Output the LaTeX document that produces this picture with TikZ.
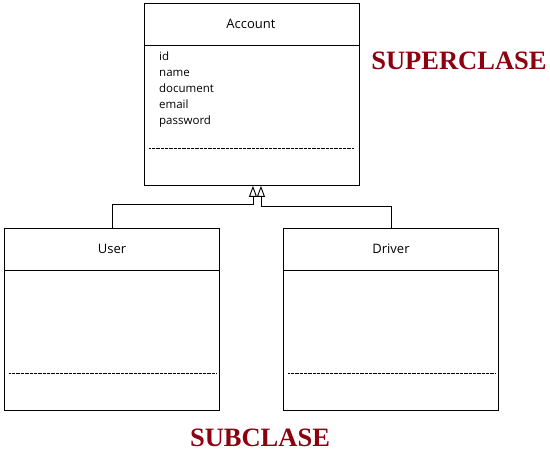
\documentclass[tikz,border=0pt]{standalone}
\usepackage{fontspec}
\setmainfont{Open Sans}
\newfontfamily\titlefont{Liberation Serif}
\usetikzlibrary{arrows.meta, positioning}
\definecolor{titlered}{RGB}{140,0,16}

\begin{document}
\begin{tikzpicture}
	[%
	x=1pt, y=-1pt,
	classbox/.style ={rectangle,	draw=black,	line width=0.9pt,	inner sep=0pt,	anchor=north west,	minimum width=215pt,	minimum height=182pt},%
	classname/.style={font=\fontsize{13}{15}\selectfont},%
	attr/.style     ={anchor=base west,	inner sep=0pt,	font=\fontsize{11.5}{14}\selectfont},%
	sep/.style      ={line width=0.7pt,	dash pattern=on 0.7pt off 0.6pt},%
	title/.style    ={text=titlered,	font=\titlefont\bfseries\fontsize{26.5}{29}\selectfont},%
	inherit/.style  ={line width=0.9pt,	-{Triangle[open, length=11pt, width=8pt, line width=0.9pt]}},%
	]
	\useasboundingbox (0,0) rectangle (550,454);

	\newcommand{\xacc}{144}
	\newcommand{\xusr}{4}
	\newcommand{\xdrv}{283}
	
	% boxes
	\node (account) at (\xacc,3) [classbox] {};
	\node (user)    at (\xusr,228) [classbox] {};
	\node (driver)  at (\xdrv,228) [classbox] {};
	
	% names
	\node (accountname) at (251,24)  [classname] {Account};
	\node (username)    at (112,249) [classname] {User};
	\node (drivername)  at (391,249) [classname] {Driver};
	
	\foreach \b in {account,user,driver}%
		\draw [line width=0.9pt] ([yshift=-42pt]\b.north west) -- ([yshift=-42pt]\b.north east);
	
	% attributes
	\foreach \a [count=\i] in {id,name,document,email,password}%
		\node (attr\i) at (159,{61+16*(\i-1)}) [attr] {\a};
	
	% operation separators
	\draw [sep] (149,148) -- (354,148);
	\foreach \b in {user,driver}%
		\draw [sep] ([xshift=5pt, yshift=38pt]\b.south west) -- ([xshift=-4pt, yshift=38pt]\b.south east);
	
	% generalisation
	\draw [inherit] (user.north)   -- ++(0,-24) -| ([xshift=1pt]account.south);
	\draw [inherit] (driver.north) -- ++(0,-22) -| ([xshift=9pt]account.south);
	
	% labels
	\node (superlabel) at (459,61)  [title] {SUPERCLASE};
	\node (sublabel)   at (260,438) [title] {SUBCLASE};
	
\end{tikzpicture}
\end{document}
